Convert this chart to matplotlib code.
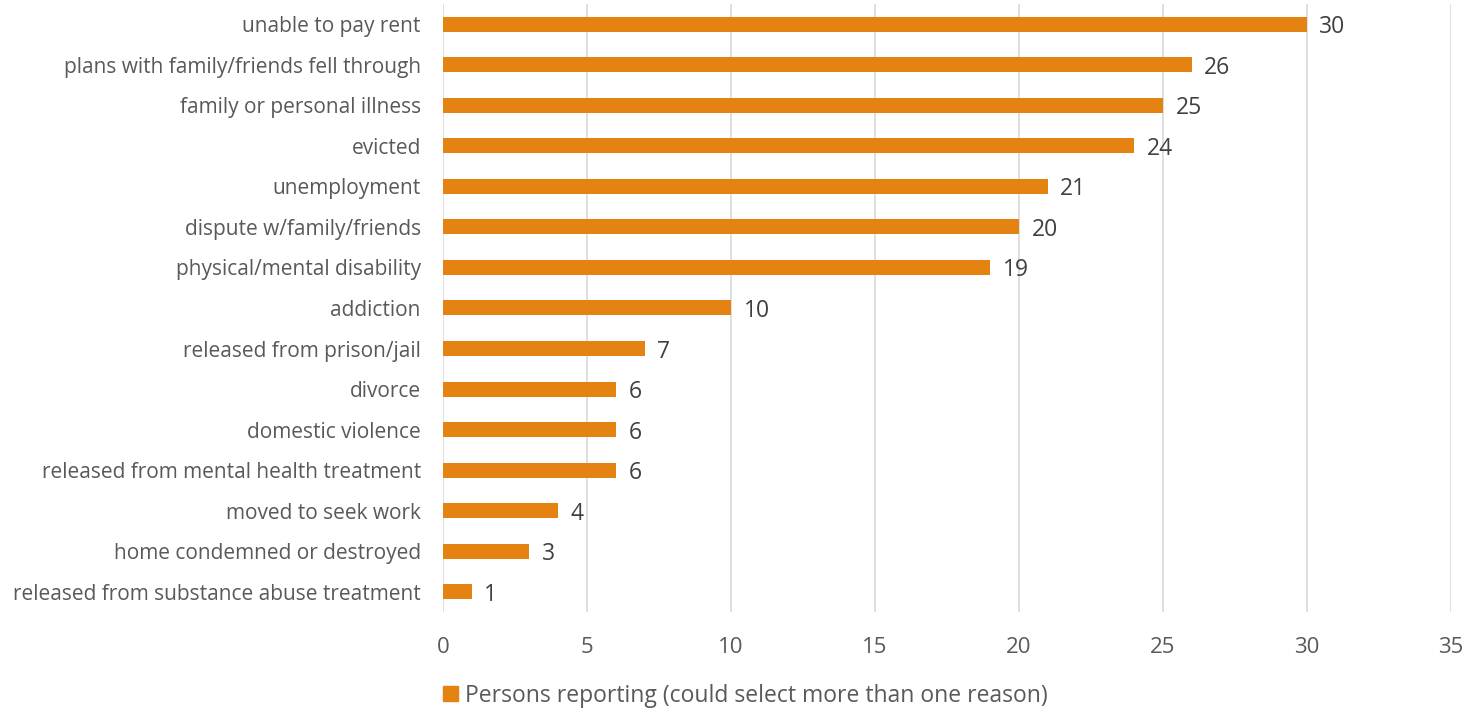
import matplotlib.pyplot as plt
from matplotlib.patches import Patch

reasons = [
    "unable to pay rent",
    "plans with family/friends fell through",
    "family or personal illness",
    "evicted",
    "unemployment",
    "dispute w/family/friends",
    "physical/mental disability",
    "addiction",
    "released from prison/jail",
    "divorce",
    "domestic violence",
    "released from mental health treatment",
    "moved to seek work",
    "home condemned or destroyed",
    "released from substance abuse treatment",
]
persons = [30, 26, 25, 24, 21, 20, 19, 10, 7, 6, 6, 6, 4, 3, 1]
xticks = [0, 5, 10, 15, 20, 25, 30, 35]

bar_color = "#E48312"
plt.rcParams["font.family"] = ["Open Sans", "DejaVu Sans"]

fig = plt.figure(figsize=(14.67, 7.13), dpi=100)
ax = fig.add_axes([0.302, 0.1417, 0.687, 0.8527])

y = list(range(len(reasons)))
ax.barh(y, persons, height=0.37, color=bar_color, zorder=3)

for yi, v in zip(y, persons):
    ax.annotate(str(v), (v, yi), xytext=(9, 0), textcoords="offset points",
                va="center_baseline", ha="left", fontsize=16.5, color="#404040")

ax.set_yticks(y)
ax.set_yticklabels(reasons, fontsize=15, color="#595959")
ax.set_ylim(len(reasons) - 0.5, -0.5)
ax.set_xlim(0, 35)
ax.set_xticks(xticks)
ax.set_xticklabels([str(t) for t in xticks], fontsize=16, color="#595959")
ax.tick_params(axis="both", length=0)
ax.tick_params(axis="x", pad=18)
ax.tick_params(axis="y", pad=16)
ax.grid(axis="x", color="#D9D9D9", linewidth=1.2, zorder=0)
for s in ax.spines.values():
    s.set_visible(False)

handle = Patch(color=bar_color)
fig.legend([handle], ["Persons reporting (could select more than one reason)"],
           loc="center", bbox_to_anchor=(0.508, 0.024), frameon=False,
           fontsize=16.5, handlelength=0.65, handleheight=0.65, handletextpad=0.3,
           labelcolor="#595959")

fig.savefig("out.png", dpi=100)
plt.close(fig)
